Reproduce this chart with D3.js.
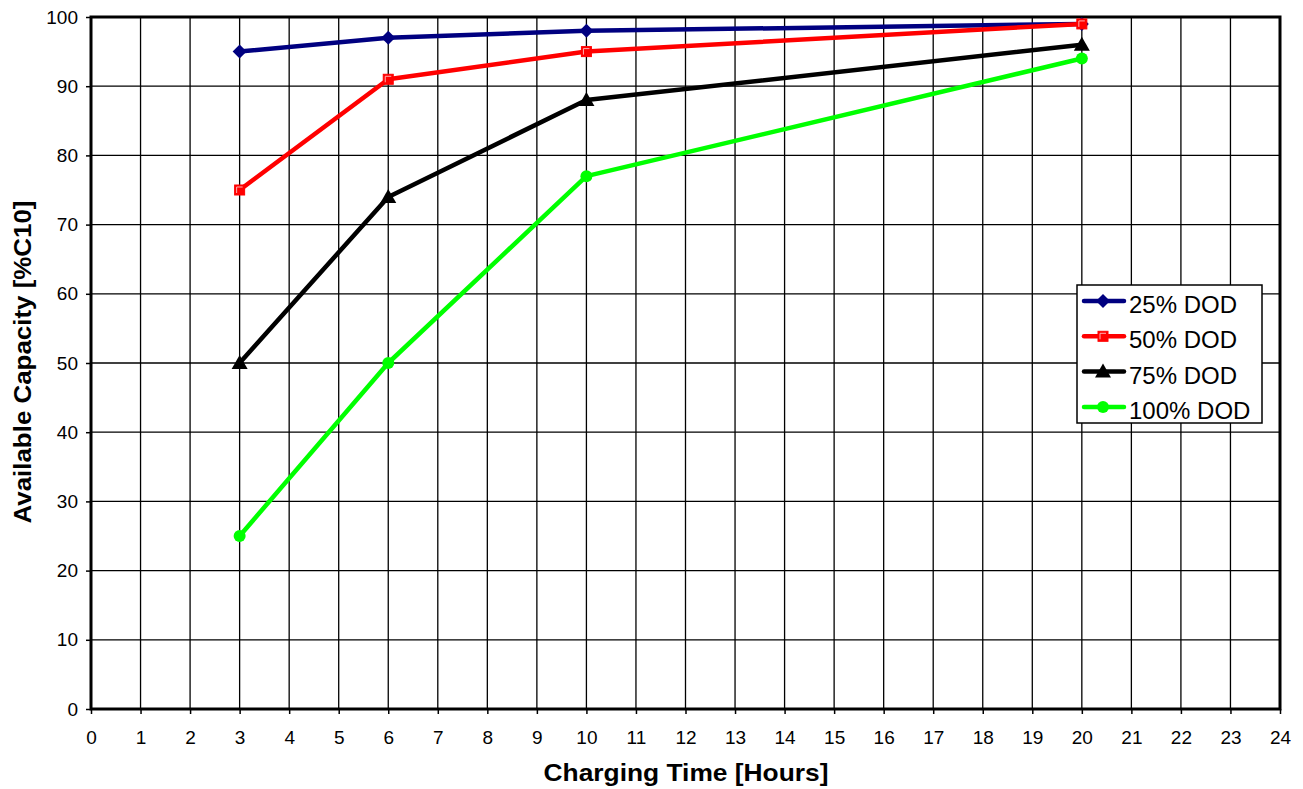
<!DOCTYPE html>
<html><head><meta charset="utf-8">
<script src="https://cdn.jsdelivr.net/npm/d3@7"></script>
<style>body{margin:0;background:#fff;} svg{display:block;font-family:"Liberation Sans",Arial,sans-serif;}</style>
</head><body>
<svg id="c" width="1303" height="789"></svg>
<script>
const hours = [3, 6, 10, 20];
const dod25 = [95, 97, 98, 99];
const dod50 = [75, 91, 95, 99];
const dod75 = [50, 74, 88, 96];
const dod100 = [25, 50, 77, 94];
const seriesNames = ["25% DOD", "50% DOD", "75% DOD", "100% DOD"];
const xTicks = d3.range(0, 25, 1);
const yTicks = d3.range(0, 101, 10);

const svg = d3.select("#c");
const L = 91, R = 1280, T = 17, B = 709;
const x = d3.scaleLinear().domain([0, 24]).range([L, R]);
const y = d3.scaleLinear().domain([0, 100]).range([B, T]);

// grid
svg.append("g").selectAll("line").data(xTicks).join("line")
  .attr("x1", d => x(d)).attr("x2", d => x(d)).attr("y1", T).attr("y2", B)
  .attr("stroke", "#000").attr("stroke-width", 1.3);
svg.append("g").selectAll("line").data(yTicks).join("line")
  .attr("x1", L).attr("x2", R).attr("y1", d => y(d)).attr("y2", d => y(d))
  .attr("stroke", "#000").attr("stroke-width", 1.3);

// axes
const xa = svg.append("g").attr("transform", `translate(0,${B})`)
  .call(d3.axisBottom(x).tickValues(xTicks).tickSize(5).tickPadding(17));
const ya = svg.append("g").attr("transform", `translate(${L},0)`)
  .call(d3.axisLeft(y).tickValues(yTicks).tickSize(5).tickPadding(8));
[xa, ya].forEach(a => {
  a.select(".domain").remove();
  a.selectAll(".tick line").attr("stroke", "#000").attr("stroke-width", 1.5);
  a.selectAll(".tick text").attr("font-size", 19).attr("fill", "#000")
   .attr("font-family", "'Liberation Sans', Arial, sans-serif");
});

// border
svg.append("rect").attr("x", L).attr("y", T).attr("width", R - L).attr("height", B - T)
  .attr("fill", "none").attr("stroke", "#000").attr("stroke-width", 3);

// titles
svg.append("text").attr("x", 686).attr("y", 781).attr("text-anchor", "middle")
  .attr("font-size", 24).attr("font-weight", "bold")
  .attr("textLength", 285).attr("lengthAdjust", "spacingAndGlyphs")
  .text("Charging Time [Hours]");
svg.append("text").attr("transform", `translate(31,362) rotate(-90)`)
  .attr("text-anchor", "middle").attr("font-size", 24).attr("font-weight", "bold")
  .attr("textLength", 323).attr("lengthAdjust", "spacingAndGlyphs")
  .text("Available Capacity [%C10]");

const series = [
  {name: seriesNames[0], vals: dod25, color: "#000080", sym: "diamond"},
  {name: seriesNames[1], vals: dod50, color: "#ff0000", sym: "square"},
  {name: seriesNames[2], vals: dod75, color: "#000000", sym: "triangle"},
  {name: seriesNames[3], vals: dod100, color: "#00ff00", sym: "circle"}
];

function marker(g, s, cx, cy) {
  if (s.sym === "diamond") {
    g.append("path").attr("d", `M${cx},${cy-7}L${cx+7},${cy}L${cx},${cy+7}L${cx-7},${cy}Z`).attr("fill", s.color);
  } else if (s.sym === "square") {
    g.append("rect").attr("x", cx - 5).attr("y", cy - 5).attr("width", 10).attr("height", 10)
      .attr("fill", s.color).attr("stroke", s.color).attr("stroke-width", 1);
    g.append("path").attr("d", `M${cx-3},${cy+3}V${cy-3}H${cx+3}`).attr("fill", "none")
      .attr("stroke", "#ffb0b0").attr("stroke-width", 1);
  } else if (s.sym === "triangle") {
    g.append("path").attr("d", `M${cx},${cy-8}L${cx+8},${cy+6}L${cx-8},${cy+6}Z`).attr("fill", s.color);
  } else {
    g.append("circle").attr("cx", cx).attr("cy", cy).attr("r", 6).attr("fill", s.color);
  }
}

const line = d3.line().x(d => x(d[0])).y(d => y(d[1]));
series.forEach(s => {
  const pts = hours.map((h, i) => [h, s.vals[i]]);
  const g = svg.append("g");
  g.append("path").attr("d", line(pts)).attr("fill", "none").attr("stroke", s.color)
    .attr("stroke-width", 4.5).attr("stroke-linejoin", "round");
  pts.forEach(p => marker(g, s, x(p[0]), y(p[1])));
});

// legend
const lg = svg.append("g");
lg.append("rect").attr("x", 1077).attr("y", 285).attr("width", 185).attr("height", 138)
  .attr("fill", "#fff").attr("stroke", "#000").attr("stroke-width", 1.5);
series.forEach((s, i) => {
  const cy = 301 + i * 35.3;
  lg.append("line").attr("x1", 1084).attr("x2", 1124).attr("y1", cy).attr("y2", cy)
    .attr("stroke", s.color).attr("stroke-width", 4.5).attr("stroke-linecap", "round");
  marker(lg, s, 1103, cy);
  lg.append("text").attr("x", 1129).attr("y", cy + 12).attr("font-size", 24).text(s.name);
});
</script>
</body></html>
